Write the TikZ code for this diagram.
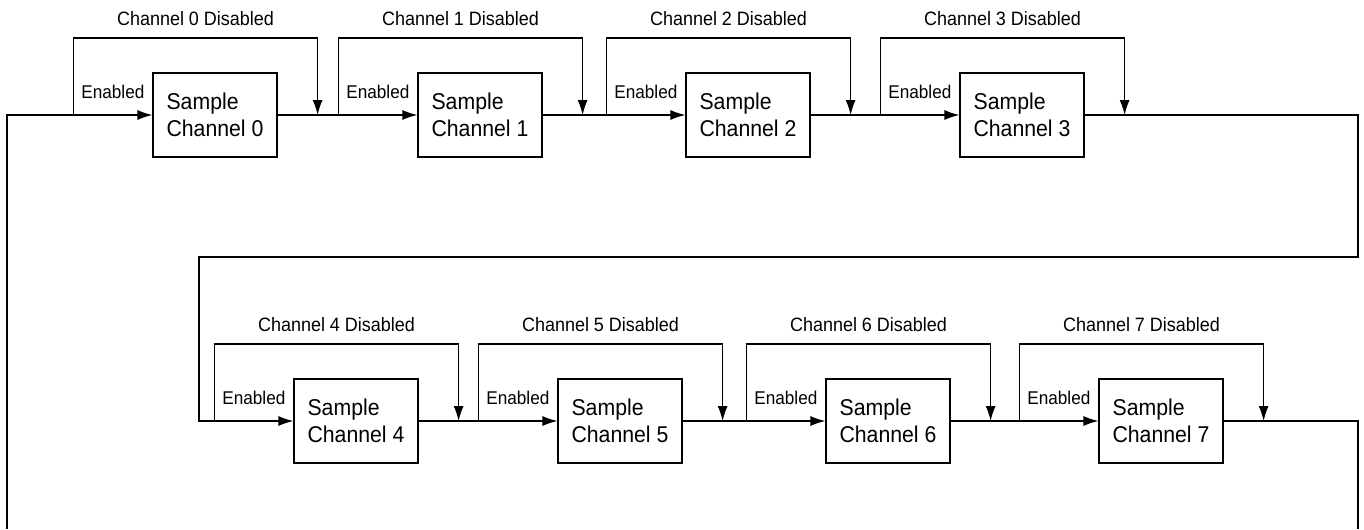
\documentclass[tikz,border=0pt]{standalone}
\usepackage{fontspec}
\setmainfont{Liberation Sans}
\newfontfamily\condfont[FakeStretch=0.93]{Liberation Sans}
\usetikzlibrary{arrows.meta,arrows}

\begin{document}
\begin{tikzpicture}[scale=1, transform shape, >={Latex[length=3mm, width=2mm]}, line width=0.7pt,
        chanbox/.style={draw, minimum width=2.48cm, minimum height=1.68cm, align=left, font=\condfont\fontsize{13}{15}\selectfont},
        lbl/.style={font=\condfont\fontsize{11}{13}\selectfont},
        enlbl/.style={font=\condfont\fontsize{10.5}{12}\selectfont}]
        \useasboundingbox (0,0) rectangle (27.28,-10.58);

        % Sample nodes, first row
        \node at (4.30,-2.30) [chanbox] (C0) {Sample\\Channel 0};
        \node at (9.60,-2.30) [chanbox] (C1) {Sample\\Channel 1};
        \node at (14.96,-2.30) [chanbox] (C2) {Sample\\Channel 2};
        \node at (20.44,-2.30) [chanbox] (C3) {Sample\\Channel 3};

        % Sample nodes, second row
        \node at (7.12,-8.42) [chanbox] (C4) {Sample\\Channel 4};
        \node at (12.40,-8.42) [chanbox] (C5) {Sample\\Channel 5};
        \node at (17.76,-8.42) [chanbox] (C6) {Sample\\Channel 6};
        \node at (23.22,-8.42) [chanbox] (C7) {Sample\\Channel 7};

        % Split points (Enabled / Disabled)
        \coordinate (S0) at ([xshift=-1.58cm]C0.west);
        \coordinate (S1) at ([xshift=-1.58cm]C1.west);
        \coordinate (S2) at ([xshift=-1.58cm]C2.west);
        \coordinate (S3) at ([xshift=-1.58cm]C3.west);
        \coordinate (S4) at ([xshift=-1.58cm]C4.west);
        \coordinate (S5) at ([xshift=-1.58cm]C5.west);
        \coordinate (S6) at ([xshift=-1.58cm]C6.west);
        \coordinate (S7) at ([xshift=-1.58cm]C7.west);

        % Merge points
        \coordinate (M0) at ([xshift=0.8cm]C0.east);
        \coordinate (M1) at ([xshift=0.8cm]C1.east);
        \coordinate (M2) at ([xshift=0.8cm]C2.east);
        \coordinate (M3) at ([xshift=0.8cm]C3.east);
        \coordinate (M4) at ([xshift=0.8cm]C4.east);
        \coordinate (M5) at ([xshift=0.8cm]C5.east);
        \coordinate (M6) at ([xshift=0.8cm]C6.east);
        \coordinate (M7) at ([xshift=0.8cm]C7.east);

        % Loop ends
        \coordinate (In) at (0.14,-10.58);
        \coordinate (Out) at (27.16,-10.58);
        \coordinate (WrapR) at (27.16,-5.14);
        \coordinate (WrapL) at (3.98,-5.14);

        % Enabled arrows
        \draw[->] (S0) -- (C0.west) node[midway, above=2mm, enlbl] {Enabled};
        \draw[->] (S1) -- (C1.west) node[midway, above=2mm, enlbl] {Enabled};
        \draw[->] (S2) -- (C2.west) node[midway, above=2mm, enlbl] {Enabled};
        \draw[->] (S3) -- (C3.west) node[midway, above=2mm, enlbl] {Enabled};
        \draw[->] (S4) -- (C4.west) node[midway, above=2mm, enlbl] {Enabled};
        \draw[->] (S5) -- (C5.west) node[midway, above=2mm, enlbl] {Enabled};
        \draw[->] (S6) -- (C6.west) node[midway, above=2mm, enlbl] {Enabled};
        \draw[->] (S7) -- (C7.west) node[midway, above=2mm, enlbl] {Enabled};

        % Disabled bypasses
        \draw[->] (S0) -- ++(0,1.54) -| (M0) node[pos=0.25, above=1.2mm, lbl] {Channel 0 Disabled};
        \draw[->] (S1) -- ++(0,1.54) -| (M1) node[pos=0.25, above=1.2mm, lbl] {Channel 1 Disabled};
        \draw[->] (S2) -- ++(0,1.54) -| (M2) node[pos=0.25, above=1.2mm, lbl] {Channel 2 Disabled};
        \draw[->] (S3) -- ++(0,1.54) -| (M3) node[pos=0.25, above=1.2mm, lbl] {Channel 3 Disabled};
        \draw[->] (S4) -- ++(0,1.54) -| (M4) node[pos=0.25, above=1.2mm, lbl] {Channel 4 Disabled};
        \draw[->] (S5) -- ++(0,1.54) -| (M5) node[pos=0.25, above=1.2mm, lbl] {Channel 5 Disabled};
        \draw[->] (S6) -- ++(0,1.54) -| (M6) node[pos=0.25, above=1.2mm, lbl] {Channel 6 Disabled};
        \draw[->] (S7) -- ++(0,1.54) -| (M7) node[pos=0.25, above=1.2mm, lbl] {Channel 7 Disabled};

        % Links between channels
        \draw (In) |- (S0);
        \draw (C0.east) -- (S1);
        \draw (C1.east) -- (S2);
        \draw (C2.east) -- (S3);
        \draw (C3.east) -| (WrapR) -- (WrapL) |- (S4);
        \draw (C4.east) -- (S5);
        \draw (C5.east) -- (S6);
        \draw (C6.east) -- (S7);
        \draw (C7.east) -| (Out);

    \end{tikzpicture}
\end{document}
